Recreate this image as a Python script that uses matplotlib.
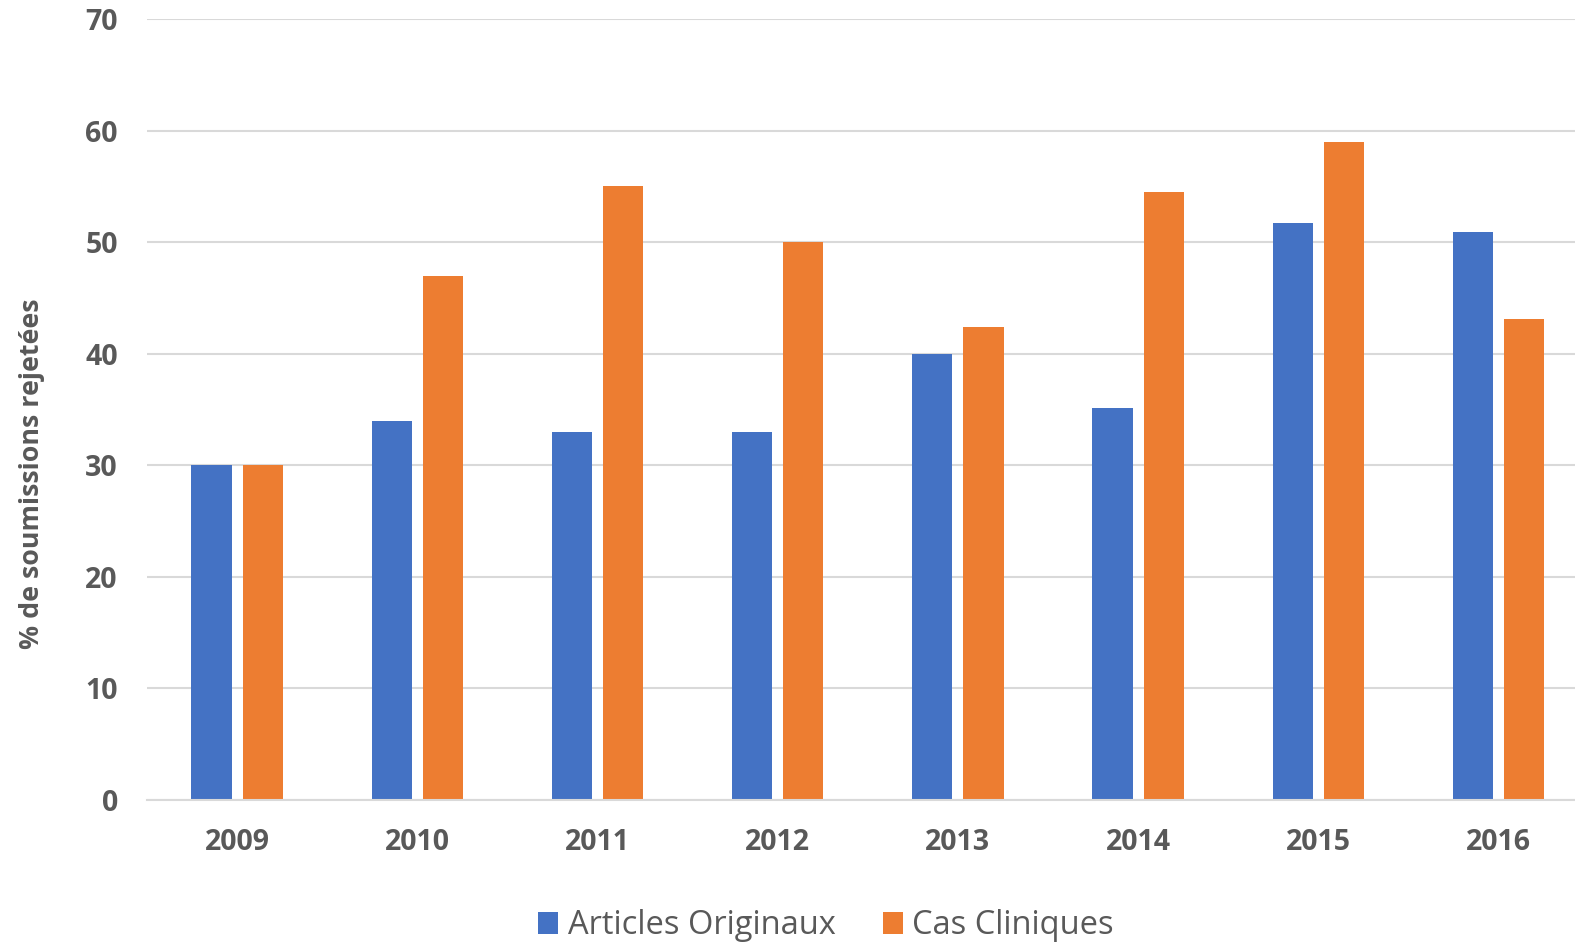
import matplotlib
matplotlib.use("Agg")
import matplotlib.pyplot as plt
import numpy as np

years = ["2009", "2010", "2011", "2012", "2013", "2014", "2015", "2016"]
articles_originaux = [30, 34, 33, 33, 40, 35.1, 51.7, 50.9]
cas_cliniques = [30, 47, 55, 50, 42.4, 54.5, 59, 43.1]
series_names = ["Articles Originaux", "Cas Cliniques"]
colors = ["#4472C4", "#ED7D31"]
yticks = [0, 10, 20, 30, 40, 50, 60, 70]

plt.rcParams['font.family'] = ['Open Sans', 'DejaVu Sans']
gray = "#595959"

fig = plt.figure(figsize=(15.75, 9.44), dpi=100)
W, H = 1575, 944
ax = fig.add_axes([147 / W, 144 / H, 1441.6 / W, 781 / H])

x = np.arange(len(years))
bw = 0.223
off = 0.142
ax.bar(x - off, articles_originaux, bw, color=colors[0], label=series_names[0], zorder=3)
ax.bar(x + off, cas_cliniques, bw, color=colors[1], label=series_names[1], zorder=3)

ax.set_xlim(-0.5, len(years) - 0.5)
ax.set_ylim(0, 70)
ax.set_yticks(yticks)
ax.set_xticks(x)
ax.set_xticklabels(years)
ax.grid(axis='y', color='#D9D9D9', linewidth=1.5, zorder=0)
for s in ['top', 'right', 'left']:
    ax.spines[s].set_visible(False)
ax.spines['bottom'].set_color('#D9D9D9')
ax.spines['bottom'].set_linewidth(1.5)
ax.spines['bottom'].set_zorder(4)
ax.tick_params(axis='both', length=0, labelcolor=gray, labelsize=20.5)
ax.tick_params(axis='y', pad=21)
ax.tick_params(axis='x', pad=20.5)
for lbl in ax.get_xticklabels() + ax.get_yticklabels():
    lbl.set_fontweight('bold')

ax.set_ylabel("% de soumissions rejetées", fontsize=19.3, fontweight='bold', color=gray)
ax.yaxis.set_label_coords((45 - 147) / 1441.6, (800 - 474) / 781)

leg = fig.legend(loc='center', bbox_to_anchor=(826 / W, (H - 926) / H), ncol=2, frameon=False,
                 fontsize=23.5, handlelength=0.62, handleheight=0.62, handletextpad=0.28,
                 columnspacing=1.45)
for t in leg.get_texts():
    t.set_color(gray)

fig.savefig("out.png", dpi=100)
